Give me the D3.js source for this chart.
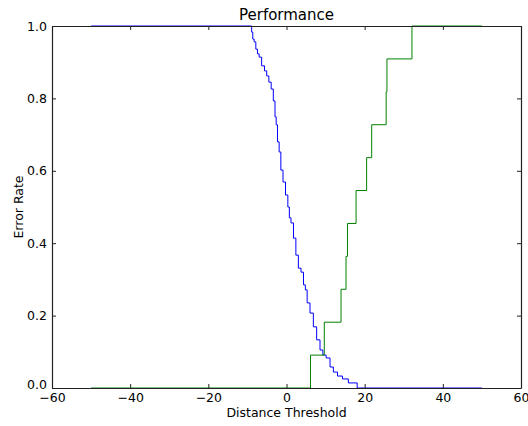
<!DOCTYPE html>
<html>
<head>
<meta charset="utf-8">
<script src="https://cdn.jsdelivr.net/npm/d3@7"></script>
<style>
  body { margin: 0; background: #fff; }
  svg { display: block; }
</style>
</head>
<body>
<svg id="chart" width="528" height="426"></svg>
<script>
// Axis ticks
const xTicks = [-60, -40, -20, 0, 20, 40, 60];
const yTicks = [0.0, 0.2, 0.4, 0.6, 0.8, 1.0];

// False-reject curve (blue): threshold vs error rate
const blueX = [-50, -9.08, -8.75, -8.50, -8.06, -7.63, -7.22, -6.78, -5.94, -5.32, -4.81, -4.22, -3.63,
  -3.12, -2.76, -2.51, -2.10, -1.66, -1.23, -0.56, 0.05, 0.64, 0.82, 1.48, 2.10, 2.69, 3.38, 4.04,
  4.66, 4.99, 5.58, 6.45, 7.29, 8.14, 9.01, 9.60, 10.70, 11.57, 12.41, 13.69, 14.97, 16.68, 19.50, 50];
const blueY = [1.0, 1.0, 0.983, 0.964, 0.956, 0.936, 0.923, 0.914, 0.890, 0.876, 0.862, 0.845, 0.826,
  0.793, 0.749, 0.727, 0.680, 0.652, 0.602, 0.569, 0.533, 0.500, 0.470, 0.456, 0.414, 0.367, 0.331, 0.320,
  0.285, 0.271, 0.235, 0.207, 0.169, 0.133, 0.105, 0.091, 0.083, 0.058, 0.044, 0.033, 0.025, 0.014, 0.0, 0.0];

// False-accept curve (green): step thresholds and error rate levels
const greenX = [-50, 6.14, 9.67, 13.95, 15.23, 15.60, 17.80, 20.50, 21.80, 25.50, 25.70, 32.10, 50];
const greenY = [0.0, 0.0909, 0.1818, 0.2727, 0.3636, 0.4545, 0.5455, 0.6364, 0.7273, 0.8182, 0.9091, 1.0, 1.0];

const W = 528, H = 426;
const margin = { left: 52, right: 7, top: 26, bottom: 38 };
const svg = d3.select("#chart");
const font = "'DejaVu Sans', sans-serif";

const x = d3.scaleLinear().domain([-60, 60]).range([margin.left, W - margin.right]);
const y = d3.scaleLinear().domain([0, 1]).range([H - margin.bottom, margin.top]);

svg.append("rect").attr("width", W).attr("height", H).attr("fill", "#fff");

const blue = blueX.map((v, i) => [v, blueY[i]]);
const green = greenX.map((v, i) => [v, greenY[i]]);

svg.append("path")
  .datum(blue)
  .attr("fill", "none")
  .attr("stroke", "#0000ff")
  .attr("stroke-width", 1)
  .attr("d", d3.line().x(d => x(d[0])).y(d => y(d[1])).curve(d3.curveStep));

svg.append("path")
  .datum(green)
  .attr("fill", "none")
  .attr("stroke", "#008000")
  .attr("stroke-width", 1)
  .attr("d", d3.line().x(d => x(d[0])).y(d => y(d[1])).curve(d3.curveStepAfter));

function styleAxis(g) {
  g.attr("font-family", font).attr("font-size", 12.5);
  g.select(".domain").attr("stroke", "#222").attr("stroke-width", 1.2);
  g.selectAll(".tick line").attr("stroke", "#222");
  g.selectAll(".tick text").attr("fill", "#000");
}

const fmtX = d3.format("d");
const fmtY = d3.format(".1f");

svg.append("g")
  .attr("transform", `translate(0,${H - margin.bottom})`)
  .call(d3.axisBottom(x).tickValues(xTicks).tickFormat(fmtX).tickSizeInner(-4).tickSizeOuter(0).tickPadding(5))
  .call(styleAxis);

svg.append("g")
  .attr("transform", `translate(0,${margin.top})`)
  .call(d3.axisTop(x).tickValues(xTicks).tickFormat("").tickSizeInner(-4).tickSizeOuter(0))
  .call(styleAxis);

svg.append("g")
  .attr("transform", `translate(${margin.left},0)`)
  .call(d3.axisLeft(y).tickValues(yTicks).tickFormat(fmtY).tickSizeInner(-4).tickSizeOuter(0).tickPadding(5))
  .call(styleAxis)
  .call(g => g.selectAll(".tick text").filter(d => d === 0).attr("dy", "0.05em"));

svg.append("g")
  .attr("transform", `translate(${W - margin.right},0)`)
  .call(d3.axisRight(y).tickValues(yTicks).tickFormat("").tickSizeInner(-4).tickSizeOuter(0))
  .call(styleAxis);

svg.append("text")
  .attr("x", (margin.left + W - margin.right) / 2)
  .attr("y", 20)
  .attr("text-anchor", "middle")
  .attr("font-family", font)
  .attr("font-size", 15)
  .text("Performance");

svg.append("text")
  .attr("x", (margin.left + W - margin.right) / 2)
  .attr("y", 417)
  .attr("text-anchor", "middle")
  .attr("font-family", font)
  .attr("font-size", 12.5)
  .text("Distance Threshold");

svg.append("text")
  .attr("transform", `translate(23,${(margin.top + H - margin.bottom) / 2}) rotate(-90)`)
  .attr("text-anchor", "middle")
  .attr("font-family", font)
  .attr("font-size", 12.5)
  .text("Error Rate");
</script>
</body>
</html>
